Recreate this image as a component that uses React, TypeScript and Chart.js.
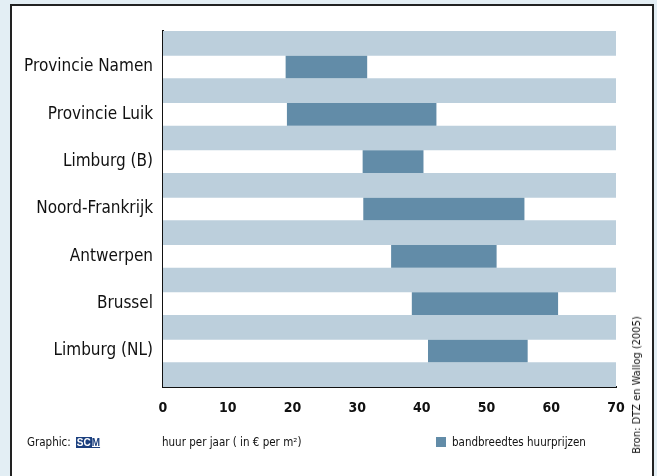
import React, { useEffect, useRef } from "react";
import { Chart, registerables } from "chart.js";

Chart.register(...registerables);

const categories = [
  "Provincie Namen",
  "Provincie Luik",
  "Limburg (B)",
  "Noord-Frankrijk",
  "Antwerpen",
  "Brussel",
  "Limburg (NL)",
];
const rangeLow = [19, 19.2, 30.9, 31, 35.3, 38.5, 41];
const rangeHigh = [31.5, 42.2, 40.2, 55.8, 51.5, 61, 56.3];
const xTicks = [0, 10, 20, 30, 40, 50, 60, 70];
const axisMin = 0;
const axisMax = 70;

const seriesName = "bandbreedtes huurprijzen";
const axisTitle = "huur per jaar ( in € per m²)";
const sourceText = "Bron: DTZ en Wallog (2005)";

const FONT = "'Liberation Sans Narrow', 'DejaVu Sans Condensed', 'Liberation Sans', sans-serif";
const BAND = "#bccfdc";
const DARK = "#628ca8";

const bandPlugin = {
  id: "bandBg",
  beforeDatasetsDraw(chart: any) {
    const { ctx, chartArea } = chart;
    const x = chart.scales.x;
    ctx.save();
    ctx.fillStyle = BAND;
    const l = x.getPixelForValue(axisMin);
    const r = x.getPixelForValue(axisMax);
    ctx.fillRect(l, chartArea.top, r - l, chartArea.bottom - chartArea.top);
    ctx.restore();
  },
};

export default function App() {
  const ref = useRef<HTMLCanvasElement>(null);

  useEffect(() => {
    if (!ref.current) return;
    const chart = new Chart(ref.current, {
      type: "bar",
      data: {
        datasets: [
          {
            label: seriesName,
            data: categories.map((_, i) => ({ x: [rangeLow[i], rangeHigh[i]], y: i })) as any,
            backgroundColor: DARK,
            borderWidth: 0,
            barThickness: 22,
            grouped: false,
            order: 0,
          } as any,
          {
            label: "row",
            data: categories.map((_, i) => ({ x: [axisMin, axisMax], y: i })) as any,
            backgroundColor: "#ffffff",
            borderWidth: 0,
            barThickness: 22,
            grouped: false,
            order: 1,
          } as any,
        ],
      },
      plugins: [bandPlugin],
      options: {
        indexAxis: "y",
        animation: false,
        responsive: false,
        layout: { padding: { top: 31, right: 41, left: 0, bottom: 0 } },
        plugins: {
          legend: { display: false },
          tooltip: { enabled: false },
          title: { display: false },
        },
        scales: {
          y: {
            type: "linear",
            reverse: true,
            offset: false,
            min: -0.76,
            max: 6.76,
            afterBuildTicks: (scale: any) => {
              scale.ticks = categories.map((_, i) => ({ value: i }));
            },
            afterFit: (scale: any) => {
              scale.width = 163;
            },
            grid: { display: false, drawTicks: false, offset: false },
            border: { display: true, color: "#111111", width: 2 },
            ticks: {
              color: "#111111",
              padding: 10,
              font: { family: FONT, size: 17 },
              callback: (v: any) => categories[v as number] ?? "",
            },
          },
          x: {
            type: "linear",
            min: axisMin,
            max: axisMax,
            afterBuildTicks: (scale: any) => {
              scale.ticks = xTicks.map((v) => ({ value: v }));
            },
            afterFit: (scale: any) => {
              scale.height = 89;
            },
            grid: { display: false, drawTicks: false },
            border: { display: true, color: "#111111", width: 2 },
            ticks: {
              color: "#111111",
              padding: 13,
              font: { family: FONT, size: 14, weight: "bold" },
            },
          },
        },
      } as any,
    });
    return () => chart.destroy();
  }, []);

  const txt: React.CSSProperties = {
    position: "absolute",
    fontFamily: FONT,
    fontSize: 11.5,
    color: "#111",
    whiteSpace: "nowrap",
    lineHeight: "14px",
  };

  return (
    <div
      style={{
        position: "fixed",
        left: 0,
        top: 0,
        width: 657,
        height: 476,
        overflow: "hidden",
        background: "#e3eef4",
      }}
    >
      <div
        style={{
          position: "absolute",
          left: 10,
          top: 4,
          width: 640,
          height: 480,
          background: "#ffffff",
          border: "2px solid #222222",
        }}
      />
      <canvas
        ref={ref}
        width={657}
        height={476}
        style={{ position: "absolute", left: 0, top: 0, width: 657, height: 476 }}
      />
      <div style={{ ...txt, left: 27, top: 435 }}>
        Graphic:
        <span
          style={{
            display: "inline-block",
            marginLeft: 5,
            fontFamily: "'Liberation Sans', sans-serif",
            fontWeight: "bold",
            fontSize: 10,
            lineHeight: "10px",
            verticalAlign: "middle",
          }}
        >
          <span style={{ background: "#1b3f7e", color: "#fff", padding: "0 1px" }}>SC</span>
          <span style={{ color: "#1b3f7e", textDecoration: "underline" }}>M</span>
        </span>
      </div>
      <div style={{ ...txt, left: 162, top: 435 }}>{axisTitle}</div>
      <div
        style={{
          position: "absolute",
          left: 436,
          top: 437,
          width: 10,
          height: 10,
          background: DARK,
        }}
      />
      <div style={{ ...txt, left: 452, top: 435 }}>{seriesName}</div>
      <div
        style={{
          ...txt,
          fontSize: 11,
          left: 637,
          top: 385,
          transform: "translate(-50%, -50%) rotate(-90deg)",
        }}
      >
        {sourceText}
      </div>
    </div>
  );
}
